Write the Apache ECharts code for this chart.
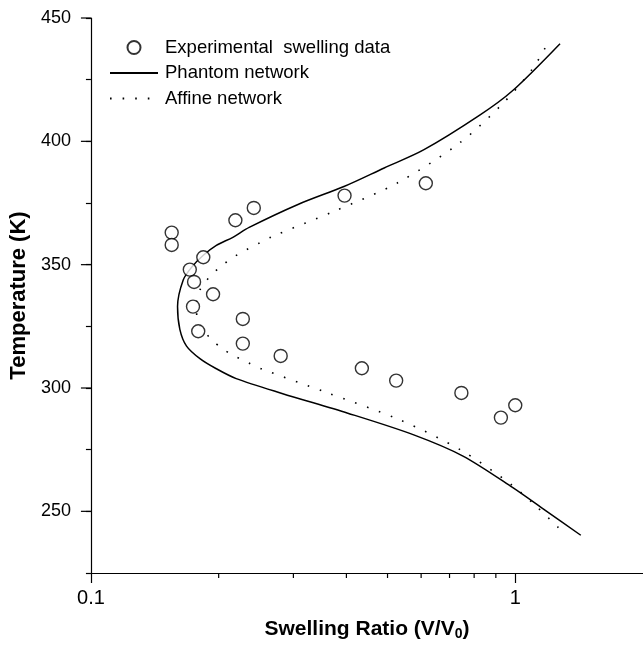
<!DOCTYPE html>
<html>
<head>
<meta charset="utf-8">
<script src="https://cdn.jsdelivr.net/npm/echarts@6/dist/echarts.min.js"></script>
<style>
html,body{margin:0;padding:0;background:#fff;}
#chart{width:643px;height:646px;}
</style>
</head>
<body>
<div id="chart"></div>
<script>
// Experimental swelling data (V/V0, temperature K)
const expRatio = [0.155, 0.155, 0.184, 0.171, 0.175, 0.194, 0.174, 0.228, 0.179, 0.228, 0.280, 0.435, 0.524, 0.7465, 1.0, 0.925, 0.219, 0.242, 0.396, 0.6155];
const expTemp  = [363, 358, 353, 348, 343, 338, 333, 328, 323, 318, 313, 308, 303, 298, 293, 288, 368, 373, 378, 383];

// Phantom network model curve
const phantomTemp  = [240.3, 250.4, 259.7, 272.4, 281, 289.8, 297.8, 303.8, 307.8, 311.8, 317, 323.8, 333, 343.8, 349.1, 353.8, 357.8, 361.1, 365.1, 374.5, 381.8, 389.2, 396.5, 410.5, 420.5, 439.6];
const phantomRatio = [1.427, 1.177, 0.985, 0.753, 0.5765, 0.403, 0.282, 0.22, 0.1975, 0.181, 0.168, 0.162, 0.160, 0.165, 0.173, 0.184, 0.1975, 0.216, 0.236, 0.3085, 0.396, 0.491, 0.608, 0.823, 0.985, 1.275];

// Affine network model curve
const affineTemp  = [243.4, 252.4, 261, 274.7, 287, 298.4, 307.8, 310.2, 312.8, 315.8, 320, 325.1, 329.1, 335.1, 340, 345.1, 349.5, 353.1, 356, 358.7, 361.4, 371.8, 383.1, 399.4, 415.2, 429.2, 439.2];
const affineRatio = [1.264, 1.115, 0.976, 0.7465, 0.536, 0.356, 0.252, 0.235, 0.219, 0.2046, 0.1916, 0.181, 0.1775, 0.1775, 0.181, 0.1905, 0.203, 0.217, 0.232, 0.249, 0.2675, 0.376, 0.527, 0.74, 0.933, 1.096, 1.188];

// Axis ticks
const xMinorTicks = [0.2, 0.3, 0.4, 0.5, 0.6, 0.7, 0.8, 0.9];
const yMajorTicks = [250, 300, 350, 400, 450];

const seriesNames = ['Experimental  swelling data', 'Phantom network', 'Affine network'];

const zip = (a, b) => a.map((v, i) => [v, b[i]]);
const FONT = 'Liberation Sans, Arial, sans-serif';

const chart = echarts.init(document.getElementById('chart'), null, {renderer: 'canvas'});

const yMin = 225, yMax = 450, xMin = 0.1, xMax = 2;

chart.setOption({
  animation: false,
  backgroundColor: '#fff',
  grid: {left: 90, right: -6, top: 18, bottom: 67},
  legend: {
    orient: 'vertical',
    left: 104, top: 33,
    itemWidth: 48, itemHeight: 13, itemGap: 6.5,
    textStyle: {fontFamily: FONT, fontSize: 18.5, color: '#000', padding: [0, 0, 0, 2]},
    data: [
      {name: seriesNames[0]},
      {name: seriesNames[1], itemStyle: {opacity: 0}},
      {name: seriesNames[2], itemStyle: {opacity: 0}}
    ]
  },
  xAxis: {
    type: 'log', logBase: 10, min: xMin, max: xMax,
    name: '{a|Swelling Ratio (V/V}{s|0}{a|)}',
    nameLocation: 'middle', nameGap: 45,
    nameTextStyle: {
      rich: {
        a: {fontFamily: FONT, fontSize: 21, fontWeight: 'bold', color: '#000'},
        s: {fontFamily: FONT, fontSize: 14, fontWeight: 'bold', color: '#000', verticalAlign: 'bottom', padding: [9, 0, 0, 0]}
      }
    },
    axisLine: {lineStyle: {color: '#000', width: 1.2}},
    axisTick: {show: true, inside: false, length: 10, lineStyle: {color: '#000', width: 1.2}},
    axisLabel: {fontFamily: FONT, fontSize: 20, color: '#000', margin: 15, showMaxLabel: false,
      formatter: v => (Math.abs(v - 0.1) < 1e-9 ? '0.1' : (Math.abs(v - 1) < 1e-9 ? '1' : ''))},
    splitLine: {show: false},
    minorTick: {show: false}
  },
  yAxis: {
    type: 'value', min: yMin, max: yMax, interval: 25,
    name: 'Temperature (K)',
    nameLocation: 'middle', nameGap: 56,
    nameTextStyle: {fontFamily: FONT, fontSize: 22, fontWeight: 'bold', color: '#000'},
    axisLine: {show: true, lineStyle: {color: '#000', width: 1.2}},
    axisTick: {show: true, inside: false, length: 5, lineStyle: {color: '#000', width: 1.2}},
    axisLabel: {fontFamily: FONT, fontSize: 18, color: '#000', margin: 20,
      formatter: v => (v % 50 === 0 && v !== yMin ? String(v) : '')},
    splitLine: {show: false}
  },
  series: [
    {
      name: seriesNames[0],
      type: 'scatter',
      symbol: 'circle',
      symbolSize: 13,
      itemStyle: {color: '#fff', borderColor: '#000', borderWidth: 1.4},
      data: zip(expRatio, expTemp),
      z: 5
    },
    {
      name: seriesNames[1],
      type: 'line',
      symbol: 'none',
      smooth: 0.3,
      lineStyle: {color: '#000', width: 1.5},
      itemStyle: {color: '#000'},
      data: zip(phantomRatio, phantomTemp),
      z: 3
    },
    {
      name: seriesNames[2],
      type: 'line',
      symbol: 'none',
      smooth: 0.3,
      lineStyle: {color: '#000', width: 1.6, type: [1.6, 11]},
      itemStyle: {color: '#000'},
      data: zip(affineRatio, affineTemp),
      z: 3
    },
    {
      // minor ticks on the log x axis
      type: 'custom',
      silent: true,
      clip: false,
      data: xMinorTicks.map(v => [v, yMin]),
      renderItem: (params, api) => {
        const p = api.coord([api.value(0), yMin]);
        return {type: 'line', shape: {x1: p[0], y1: p[1], x2: p[0], y2: p[1] + 5},
          style: {stroke: '#000', lineWidth: 1.2}};
      }
    },
    {
      // long (labelled) ticks on the y axis
      type: 'custom',
      silent: true,
      clip: false,
      data: yMajorTicks.map(v => [xMin, v]),
      renderItem: (params, api) => {
        const p = api.coord([xMin, api.value(1)]);
        return {type: 'line', shape: {x1: p[0] - 10, y1: p[1], x2: p[0], y2: p[1]},
          style: {stroke: '#000', lineWidth: 1.2}};
      }
    }
  ]
});
</script>
</body>
</html>
